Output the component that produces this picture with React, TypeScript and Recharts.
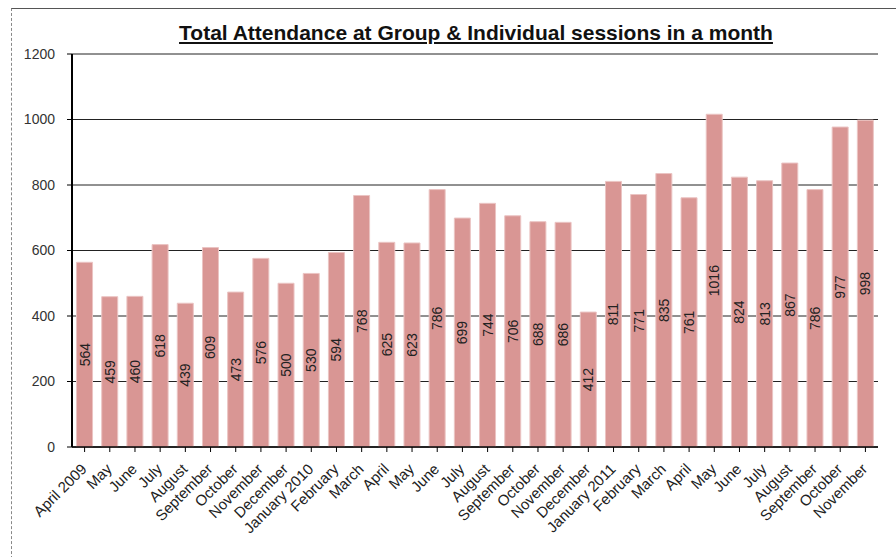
import React from "react";
import {
  BarChart,
  Bar,
  XAxis,
  YAxis,
  CartesianGrid,
  LabelList,
} from "recharts";

// Monthly attendance, April 2009 – November 2011.
const months = [
  "April 2009", "May", "June", "July", "August", "September", "October",
  "November", "December", "January 2010", "February", "March", "April",
  "May", "June", "July", "August", "September", "October", "November",
  "December", "January 2011", "February", "March", "April", "May", "June",
  "July", "August", "September", "October", "November",
];
const attendance = [
  564, 459, 460, 618, 439, 609, 473, 576, 500, 530, 594, 768, 625, 623, 786,
  699, 744, 706, 688, 686, 412, 811, 771, 835, 761, 1016, 824, 813, 867, 786,
  977, 998,
];
const yTicks = [0, 200, 400, 600, 800, 1000, 1200];

const data = months.map((month, i) => ({ id: i, month, total: attendance[i] }));

const font = "'Liberation Sans', Arial, sans-serif";
const barFill = "#D99694";

function MonthTick(props: any) {
  const { x, y, payload } = props;
  return (
    <text
      x={x + 3}
      y={y + 16}
      transform={`rotate(-45, ${x + 3}, ${y + 16})`}
      textAnchor="end"
      fontFamily={font}
      fontSize={15}
      fill="#222"
    >
      {payload.value}
    </text>
  );
}

function ValueLabel(props: any) {
  const { x, y, width, height, value } = props;
  const cx = x + width / 2;
  const cy = y + height / 2;
  return (
    <text
      x={cx}
      y={cy}
      transform={`rotate(-90, ${cx}, ${cy})`}
      textAnchor="middle"
      dominantBaseline="central"
      fontFamily={font}
      fontSize={14}
      fill="#222"
    >
      {value}
    </text>
  );
}

export default function App() {
  return (
    <div
      style={{
        position: "absolute",
        left: 0,
        top: 0,
        width: 896,
        height: 557,
        background: "#fff",
        overflow: "hidden",
      }}
    >
      <div
        style={{
          position: "absolute",
          left: 11,
          top: 8,
          width: 900,
          height: 560,
          borderTop: "1px solid #555",
          borderLeft: "1px dashed #888",
        }}
      />
      <BarChart
        width={896}
        height={557}
        data={data}
        margin={{ top: 54, right: 18, bottom: 80, left: 32 }}
        barCategoryGap="18%"
        style={{ position: "absolute", left: 0, top: 0 }}
      >
        <CartesianGrid vertical={false} stroke="#222" />
        <XAxis
          dataKey="month"
          interval={0}
          tick={<MonthTick />}
          tickLine={{ stroke: "#000" }}
          tickSize={5}
          axisLine={{ stroke: "#000", strokeWidth: 1.5 }}
        />
        <YAxis
          domain={[0, 1200]}
          ticks={yTicks}
          width={40}
          tickSize={5}
          tickMargin={12}
          tick={{ fontFamily: font, fontSize: 14, fill: "#333" }}
          tickLine={{ stroke: "#000" }}
          axisLine={{ stroke: "#000", strokeWidth: 2 }}
        />
        <YAxis
          yAxisId="frame"
          orientation="right"
          domain={[0, 1200]}
          width={0}
          tick={false}
          tickLine={false}
          axisLine={{ stroke: "#000", strokeWidth: 1.5 }}
        />
        <Bar
          dataKey="total"
          fill={barFill}
          stroke="#EBC4C3"
          strokeWidth={1}
          isAnimationActive={false}
        >
          <LabelList dataKey="total" content={<ValueLabel />} />
        </Bar>
      </BarChart>
      <div
        style={{
          position: "absolute",
          left: 0,
          width: 952,
          top: 21,
          textAlign: "center",
          fontFamily: font,
          fontWeight: "bold",
          fontSize: 21,
          textDecoration: "underline",
          color: "#111",
        }}
      >
        Total Attendance at Group &amp; Individual sessions in a month
      </div>
    </div>
  );
}
